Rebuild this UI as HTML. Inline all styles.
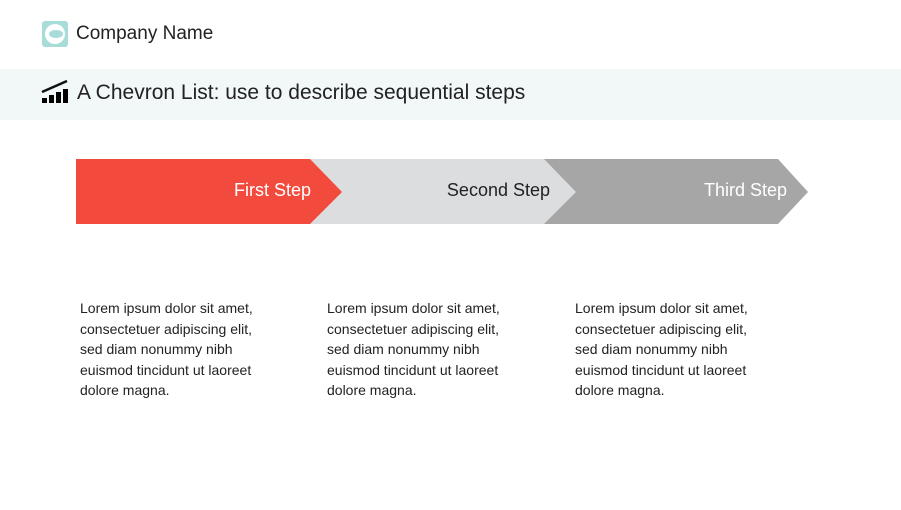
<!DOCTYPE html>
<html><head><style>
body{margin:0;width:901px;height:510px;background:#fff;position:relative;overflow:hidden;font-family:"Liberation Sans",sans-serif;color:#222}
.t{position:absolute}
.p{position:absolute;top:298px;font-size:14px;line-height:20.5px;color:#222}
</style></head><body>
<div class="t" style="left:0;top:69px;width:901px;height:51px;background:#f2f7f8"></div>
<div class="t" style="left:42px;top:21px;width:26px;height:26px;background:#a7dcd8;border-radius:3px"></div>
<div class="t" style="left:45px;top:24px;width:20px;height:20px;background:#fff;border-radius:50%"></div>
<div class="t" style="left:49px;top:30px;width:14px;height:8px;background:#a7dcd8;border-radius:50%"></div>
<div class="t" style="left:76px;top:23px;font-size:19px">Company Name</div>
<svg class="t" style="left:41px;top:80px" width="28" height="24"><path d="M1 12 L26 1" stroke="#111" stroke-width="2.5"/><rect x="1" y="18" width="5" height="5"/><rect x="8" y="15" width="5" height="8"/><rect x="15" y="12" width="5" height="11"/><rect x="22" y="9" width="5" height="14"/></svg>
<div class="t" style="left:77px;top:81px;font-size:21px">A Chevron List: use to describe sequential steps</div>
<svg class="t" style="left:0;top:0" width="901" height="510">
<polygon points="544,159 778,159 808,192 778,224 544,224" fill="#a5a6a5"/>
<polygon points="310,159 544,159 576,192 544,224 310,224" fill="#dcdddf"/>
<polygon points="76,159 310,159 342,192 310,224 76,224" fill="#f24b3d"/>
<text x="311" y="196" text-anchor="end" font-size="18" fill="#fff" font-family="Liberation Sans">First Step</text>
<text x="550" y="196" text-anchor="end" font-size="18" fill="#222" font-family="Liberation Sans">Second Step</text>
<text x="787" y="196" text-anchor="end" font-size="18" fill="#fff" font-family="Liberation Sans">Third Step</text>
</svg>
<div class="p" style="left:80px">Lorem ipsum dolor sit amet,<br>consectetuer adipiscing elit,<br>sed diam nonummy nibh<br>euismod tincidunt ut laoreet<br>dolore magna.</div>
<div class="p" style="left:327px">Lorem ipsum dolor sit amet,<br>consectetuer adipiscing elit,<br>sed diam nonummy nibh<br>euismod tincidunt ut laoreet<br>dolore magna.</div>
<div class="p" style="left:575px">Lorem ipsum dolor sit amet,<br>consectetuer adipiscing elit,<br>sed diam nonummy nibh<br>euismod tincidunt ut laoreet<br>dolore magna.</div>
</body></html>
